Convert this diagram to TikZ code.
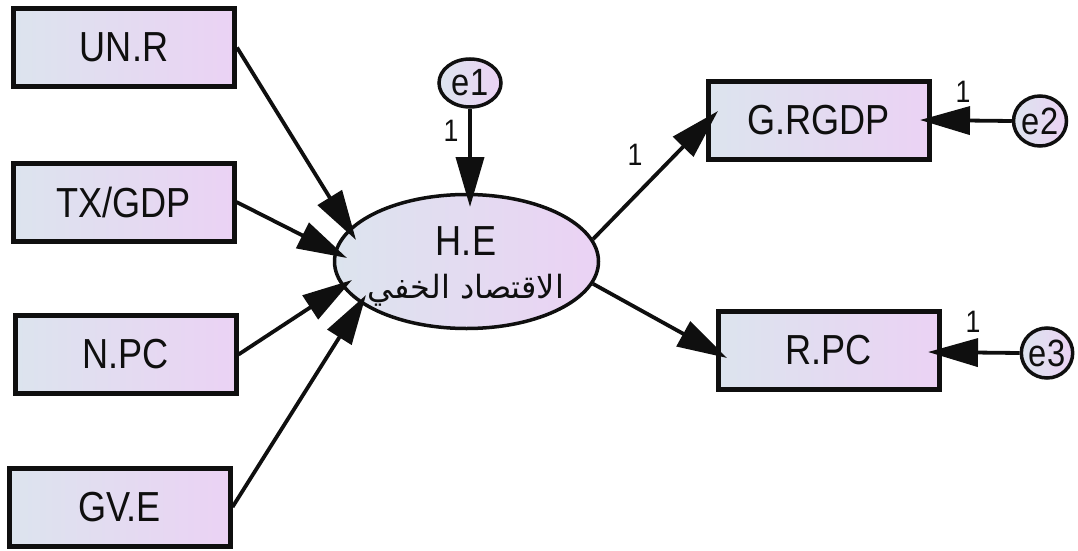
\documentclass[tikz,border=0pt]{standalone}
\usepackage{fontspec}
\setmainfont[FakeStretch=0.86]{Liberation Sans}
\newfontfamily\arabicfont[Script=Arabic]{DejaVu Sans}
\TeXXeTstate=1
\usetikzlibrary{arrows.meta,shapes.geometric}
\definecolor{fillL}{RGB}{220,228,238}
\definecolor{fillR}{RGB}{235,210,244}
\definecolor{ink}{RGB}{15,15,15}
\begin{document}
\begin{tikzpicture}[x=1pt,y=-1pt,
  obs/.style={draw=ink, line width=5pt, left color=fillL, right color=fillR,
    minimum width=221pt, minimum height=78pt, inner sep=0pt, text=ink,
    font=\fontsize{42}{46}\selectfont},
  latent/.style={ellipse, draw=ink, line width=3.5pt, left color=fillL, right color=fillR,
    minimum width=264pt, minimum height=134pt, inner sep=0pt},
  err/.style={ellipse, draw=ink, line width=3.5pt, left color=fillL, right color=fillR,
    inner sep=0pt, text=ink, font=\fontsize{38}{40}\selectfont},
  path/.style={draw=ink, line width=3.8pt, -{Triangle[length=50pt,width=28pt]}},
  wlab/.style={text=ink, font=\fontsize{31}{33}\selectfont, inner sep=0pt},
  txt/.style={text=ink, inner sep=0pt}]
\useasboundingbox (0,0) rectangle (1078,551);
% observed
\node[obs] (unr)  at (124,47.5)  {UN.R};
\node[obs] (tx)   at (123.5,202) {TX/GDP};
\node[obs] (npc)  at (125.5,354.5) {N.PC};
\node[obs] (gve)  at (119.5,507) {GV.E};
\node[obs] (grg)  at (818.5,120) {G.RGDP};
\node[obs] (rpc)  at (828.5,350.5) {R.PC};
% latent
\node[latent] (he) at (466.5,261.5) {};
\node[txt, font=\fontsize{42}{46}\selectfont] (helab) at (466,241) {H.E};
\node[txt, font=\fontsize{32}{36}\arabicfont] (hear) at (466,290) {\beginR الاقتصاد الخفي\endR};
% errors
\node[err, minimum width=62pt, minimum height=48pt] (e1) at (470,83) {e1};
\node[err, minimum width=53pt, minimum height=50pt] (e2) at (1040,121) {e2};
\node[err, minimum width=51pt, minimum height=50pt] (e3) at (1047,353) {e3};
% tips
\coordinate (t1) at (356,240);
\coordinate (t2) at (347,258);
\coordinate (t3) at (352,280);
\coordinate (t4) at (366,295);
\coordinate (t5) at (470,207);
\coordinate (t6) at (718,111);
\coordinate (t7) at (727,358);
\coordinate (t8) at (920,120);
\coordinate (t9) at (928,352);
% paths
\draw[path] (unr.east) -- (t1);
\draw[path] (tx.east) -- (t2);
\draw[path] (npc.east) -- (t3);
\draw[path] (gve.east) -- (t4);
\draw[path] (e1.south) -- (t5);
\draw[path] (he.10) -- (t6);
\draw[path] (he.-10) -- (t7);
\draw[path] (e2.west) -- (t8);
\draw[path] (e3.west) -- (t9);
% weights
\node[wlab] (w1) at (451,131) {1};
\node[wlab] (w2) at (635,155) {1};
\node[wlab] (w3) at (963,92) {1};
\node[wlab] (w4) at (973,322) {1};
\end{tikzpicture}
\end{document}
